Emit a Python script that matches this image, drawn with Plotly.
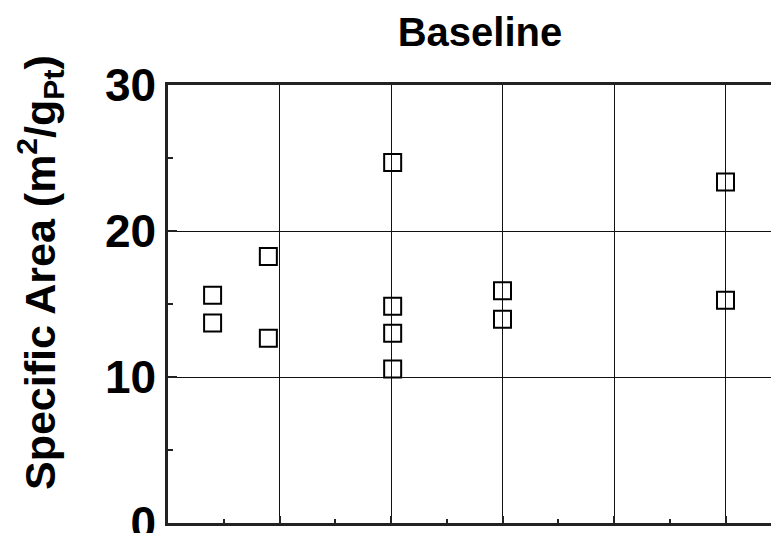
import plotly.graph_objects as go

# Sample positions along the (unlabelled) x axis and measured specific areas
positions = [0.40, 0.40, 0.90, 0.90, 2.015, 2.015, 2.015, 2.015, 3.0, 3.0, 5.0, 5.0]
specific_area = [15.6, 13.7, 18.25, 12.65, 24.7, 14.85, 13.0, 10.55, 15.9, 13.95, 23.35, 15.25]

y_ticks = [0, 10, 20, 30]
y_tick_text = ["0", "10", "20", "30"]

FONT = "Liberation Sans, Arial, Helvetica, sans-serif"
W, H = 771, 533
L, R, T, B = 168, 0, 85, 10

fig = go.Figure(
    go.Scatter(
        x=positions,
        y=specific_area,
        mode="markers",
        marker=dict(symbol="square-open", size=17, color="black",
                    line=dict(width=2, color="black")),
        showlegend=False,
    )
)

x_max = (W - L - R) / 111.5

fig.update_xaxes(
    range=[0, x_max],
    dtick=1, tick0=0,
    showticklabels=False,
    ticks="inside", ticklen=7, tickwidth=2, tickcolor="#222",
    minor=dict(dtick=0.5, ticks="inside", ticklen=4, tickwidth=2,
               tickcolor="#222", showgrid=False),
    showgrid=True, gridcolor="#111", gridwidth=1.2,
    showline=True, linecolor="#222", linewidth=2.5, mirror=True,
    zeroline=False, automargin=False,
)

fig.update_yaxes(
    range=[0, 30],
    tickvals=y_ticks, ticktext=y_tick_text,
    ticks="inside", ticklen=9, tickwidth=2, tickcolor="#222",
    minor=dict(dtick=5, ticks="inside", ticklen=5, tickwidth=2,
               tickcolor="#222", showgrid=False),
    showgrid=True, gridcolor="#111", gridwidth=1.2,
    showline=True, linecolor="#222", linewidth=2.5, mirror=False,
    zeroline=False, automargin=False,
    ticklabeloverflow="allow",
    tickfont=dict(family=FONT, size=46, color="black", weight="bold"),
)

fig.add_annotation(
    text="Specific Area (m<sup>2</sup>/g<sub>Pt</sub>)",
    xref="paper", yref="paper",
    x=(40 - L) / (W - L - R), y=(H - B - 273) / (H - T - B),
    xanchor="center", yanchor="middle",
    textangle=-90, showarrow=False,
    font=dict(family=FONT, size=43, color="black", weight="bold"),
)

fig.update_layout(
    width=W, height=H,
    margin=dict(l=L, r=R, t=T, b=B, autoexpand=False),
    paper_bgcolor="white", plot_bgcolor="white",
    title=dict(
        text="Baseline",
        x=480 / W, xref="container", xanchor="center",
        y=1 - 32 / H, yref="container", yanchor="middle",
        font=dict(family=FONT, size=40, color="black", weight="bold"),
    ),
)

fig.write_html("out.html")
